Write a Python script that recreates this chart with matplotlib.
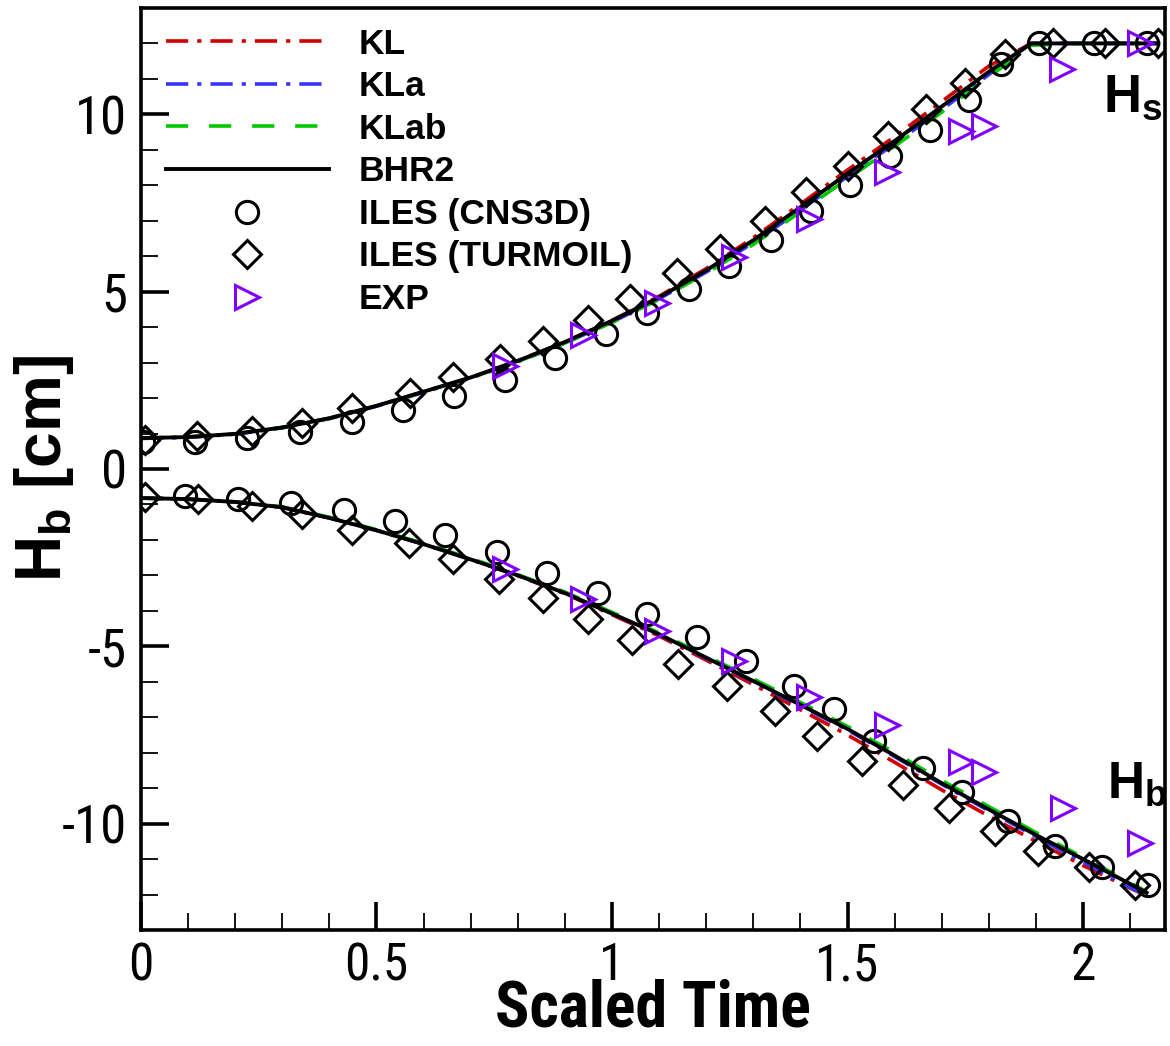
import matplotlib
matplotlib.use('Agg')
import matplotlib.pyplot as plt
from matplotlib import font_manager as fm
from matplotlib.ticker import MultipleLocator, FuncFormatter

# ---------------- data ----------------
t_up = [0.0, 0.1, 0.2, 0.3, 0.4, 0.5, 0.6, 0.7, 0.8, 0.9, 1.0, 1.1, 1.2, 1.3,
        1.4, 1.5, 1.6, 1.7, 1.8, 1.89, 2.0, 2.16]
kl_up = [0.87, 0.90, 0.99, 1.17, 1.43, 1.78, 2.18, 2.58, 3.05, 3.58, 4.19, 4.87,
         5.65, 6.52, 7.47, 8.43, 9.37, 10.36, 11.36, 12.0, 12.0, 12.0]
kla_up = [0.86, 0.89, 0.98, 1.16, 1.42, 1.77, 2.16, 2.56, 3.02, 3.55, 4.14, 4.80,
          5.55, 6.38, 7.30, 8.25, 9.17, 10.13, 11.12, 12.0, 12.0, 12.0]
klab_up = [0.87, 0.90, 0.99, 1.17, 1.43, 1.78, 2.17, 2.57, 3.03, 3.55, 4.13, 4.78,
           5.52, 6.33, 7.25, 8.18, 9.10, 10.06, 11.05, 11.95, 12.0, 12.0]
bhr2_up = [0.87, 0.90, 0.99, 1.17, 1.43, 1.78, 2.18, 2.58, 3.05, 3.58, 4.18, 4.84,
           5.60, 6.45, 7.38, 8.33, 9.25, 10.22, 11.20, 12.0, 12.0, 12.0]

t_lo = [0.0, 0.1, 0.2, 0.3, 0.4, 0.5, 0.6, 0.7, 0.8, 0.9, 1.0, 1.1, 1.2, 1.3,
        1.4, 1.5, 1.6, 1.7, 1.8, 1.9, 2.0, 2.1, 2.135]
kl_lo = [-0.82, -0.85, -0.93, -1.08, -1.38, -1.73, -2.12, -2.55, -3.01, -3.52,
         -4.11, -4.71, -5.39, -6.08, -6.79, -7.50, -8.27, -9.05, -9.79, -10.50,
         -11.18, -11.82, -12.03]
kla_lo = [-0.82, -0.85, -0.93, -1.08, -1.38, -1.73, -2.12, -2.55, -3.00, -3.50,
          -4.08, -4.67, -5.34, -6.00, -6.68, -7.36, -8.11, -8.89, -9.64, -10.37,
          -11.08, -11.80, -12.02]
klab_lo = [-0.82, -0.85, -0.93, -1.07, -1.36, -1.71, -2.10, -2.52, -2.98, -3.47,
           -4.04, -4.62, -5.27, -5.92, -6.58, -7.26, -8.00, -8.78, -9.52, -10.25,
           -10.95, -11.66, -11.92]
bhr2_lo = [-0.82, -0.85, -0.93, -1.08, -1.38, -1.73, -2.12, -2.55, -3.00, -3.50,
           -4.08, -4.66, -5.32, -5.98, -6.65, -7.33, -8.08, -8.86, -9.60, -10.32,
           -11.00, -11.70, -11.95]

cns_t_up = [0.005, 0.115, 0.226, 0.338, 0.449, 0.557, 0.665, 0.773, 0.880, 0.987,
            1.074, 1.164, 1.249, 1.337, 1.423, 1.505, 1.590, 1.675, 1.759, 1.825,
            1.907, 2.024, 2.135]
cns_up = [0.75, 0.76, 0.88, 1.05, 1.33, 1.65, 2.07, 2.52, 3.14, 3.80, 4.39, 5.08,
          5.72, 6.47, 7.27, 8.00, 8.83, 9.55, 10.40, 11.43, 12.0, 12.0, 12.0]
tur_t_up = [0.008, 0.118, 0.235, 0.341, 0.449, 0.571, 0.663, 0.762, 0.854, 0.950,
            1.038, 1.137, 1.229, 1.325, 1.412, 1.500, 1.585, 1.666, 1.749, 1.834,
            1.937, 2.047, 2.160]
tur_up = [0.83, 0.93, 1.07, 1.31, 1.73, 2.15, 2.59, 3.09, 3.60, 4.21, 4.78, 5.54,
          6.21, 6.99, 7.81, 8.54, 9.39, 10.14, 10.89, 11.69, 12.0, 12.0, 12.0]
exp_t_up = [0.773, 0.939, 1.095, 1.258, 1.419, 1.583, 1.742, 1.790, 1.956, 2.121]
exp_up = [2.90, 3.79, 4.69, 5.99, 7.04, 8.36, 9.53, 9.67, 11.27, 12.0]

cns_t_lo = [0.093, 0.207, 0.318, 0.430, 0.539, 0.646, 0.755, 0.861, 0.970, 1.074,
            1.180, 1.285, 1.387, 1.472, 1.557, 1.660, 1.744, 1.841, 1.941, 2.040,
            2.139]
cns_lo = [-0.75, -0.84, -0.95, -1.16, -1.47, -1.85, -2.35, -2.93, -3.51, -4.10,
          -4.74, -5.42, -6.13, -6.78, -7.68, -8.43, -9.12, -9.92, -10.62, -11.22,
          -11.72]
tur_t_lo = [0.008, 0.122, 0.235, 0.341, 0.449, 0.570, 0.663, 0.761, 0.854, 0.950,
            1.042, 1.141, 1.245, 1.346, 1.435, 1.530, 1.618, 1.716, 1.813, 1.905,
            2.013, 2.110]
tur_lo = [-0.78, -0.86, -1.03, -1.28, -1.71, -2.10, -2.55, -3.10, -3.63, -4.22,
          -4.81, -5.49, -6.13, -6.83, -7.54, -8.24, -8.92, -9.56, -10.22, -10.76,
          -11.23, -11.72]
exp_t_lo = [0.773, 0.938, 1.095, 1.258, 1.419, 1.583, 1.742, 1.790, 1.958, 2.121]
exp_lo = [-2.83, -3.68, -4.56, -5.42, -6.43, -7.23, -8.27, -8.55, -9.56, -10.54]

labels = ['KL', 'KLa', 'KLab', 'BHR2', 'ILES (CNS3D)', 'ILES (TURMOIL)', 'EXP']

# ---------------- fonts ----------------
names = {f.name for f in fm.fontManager.ttflist}


def pick(*cands):
    for c in cands:
        if c in names:
            return c
    return 'DejaVu Sans'


SANS = pick('Liberation Sans', 'Arial', 'DejaVu Sans')
NARROW = pick('Liberation Sans Narrow', 'Arial Narrow', 'Roboto Condensed', SANS)

plt.rcParams['mathtext.fontset'] = 'custom'
plt.rcParams['mathtext.rm'] = SANS
plt.rcParams['mathtext.bf'] = SANS + ':bold'
plt.rcParams['mathtext.it'] = SANS + ':italic'
plt.rcParams['lines.scale_dashes'] = False

# ---------------- figure ----------------
fig = plt.figure(figsize=(11.7, 10.46), dpi=100)
ax = fig.add_axes([0.1205, 0.1109, 0.8752, 0.8815])

red = '#d00000'
blue = '#3535ff'
green = '#00c800'
purple = '#8000ff'

lw = 2.6
kl_dash = (0, (16, 6.5, 3, 6.5))
klab_dash = (0, (16, 15))

ax.plot(t_up, kl_up, color=red, lw=lw, linestyle=kl_dash, label=labels[0])
ax.plot(t_lo, kl_lo, color=red, lw=lw, linestyle=kl_dash)
ax.plot(t_up, kla_up, color=blue, lw=lw, linestyle=kl_dash, label=labels[1])
ax.plot(t_lo, kla_lo, color=blue, lw=lw, linestyle=kl_dash)
ax.plot(t_up, klab_up, color=green, lw=lw, linestyle=klab_dash, label=labels[2])
ax.plot(t_lo, klab_lo, color=green, lw=lw, linestyle=klab_dash)
ax.plot(t_up, bhr2_up, color='black', lw=2.8, label=labels[3])
ax.plot(t_lo, bhr2_lo, color='black', lw=2.8)

mk = dict(linestyle='none', fillstyle='none', markeredgewidth=2.2)
ax.plot(cns_t_up, cns_up, marker='o', ms=16, color='black', label=labels[4], **mk)
ax.plot(cns_t_lo, cns_lo, marker='o', ms=16, color='black', **mk)
ax.plot(tur_t_up, tur_up, marker='D', ms=14.5, color='black', label=labels[5], **mk)
ax.plot(tur_t_lo, tur_lo, marker='D', ms=14.5, color='black', **mk)
ax.plot(exp_t_up, exp_up, marker='>', ms=17, color=purple, label=labels[6], **mk)
ax.plot(exp_t_lo, exp_lo, marker='>', ms=17, color=purple, **mk)

ax.set_xlim(0, 2.174)
ax.set_ylim(-13, 13)

ax.xaxis.set_major_locator(MultipleLocator(0.5))
ax.xaxis.set_minor_locator(MultipleLocator(0.1))
ax.yaxis.set_major_locator(MultipleLocator(5))
ax.yaxis.set_minor_locator(MultipleLocator(1))


def fmt(v, pos):
    return '%g' % v


ax.xaxis.set_major_formatter(FuncFormatter(fmt))
ax.yaxis.set_major_formatter(FuncFormatter(fmt))

ax.tick_params(which='major', direction='in', length=20, width=2.6, pad=10,
               labelsize=38, top=False, right=False)
ax.tick_params(axis='x', which='major', pad=8, labelsize=37)
ax.tick_params(which='minor', direction='in', length=12, width=1.3,
               top=False, right=False)
for lab in ax.get_xticklabels() + ax.get_yticklabels():
    lab.set_fontfamily(NARROW)
for sp in ax.spines.values():
    sp.set_linewidth(2.6)

ax.set_xlabel('Scaled Time', fontsize=46, fontweight='bold', family=NARROW,
              labelpad=-9)
ax.set_ylabel(r'$\mathbf{H_b}$ [cm]', fontsize=46, fontweight='bold',
              family=SANS, labelpad=-10)

ax.text(2.042, 10.08, r'$\mathbf{H_s}$', fontsize=38, ha='left',
        va='baseline', family=SANS)
ax.text(2.051, -9.27, r'$\mathbf{H_b}$', fontsize=37, ha='left',
        va='baseline', family=SANS)

leg = ax.legend(loc='upper left', bbox_to_anchor=(0.0, 1.0055), frameon=False,
                prop={'family': SANS, 'weight': 'bold', 'size': 25.5},
                handlelength=4.6, handletextpad=0.85, labelspacing=0.27,
                borderaxespad=0.55, borderpad=0.15, numpoints=1)

fig.savefig('out.png', dpi=100)
